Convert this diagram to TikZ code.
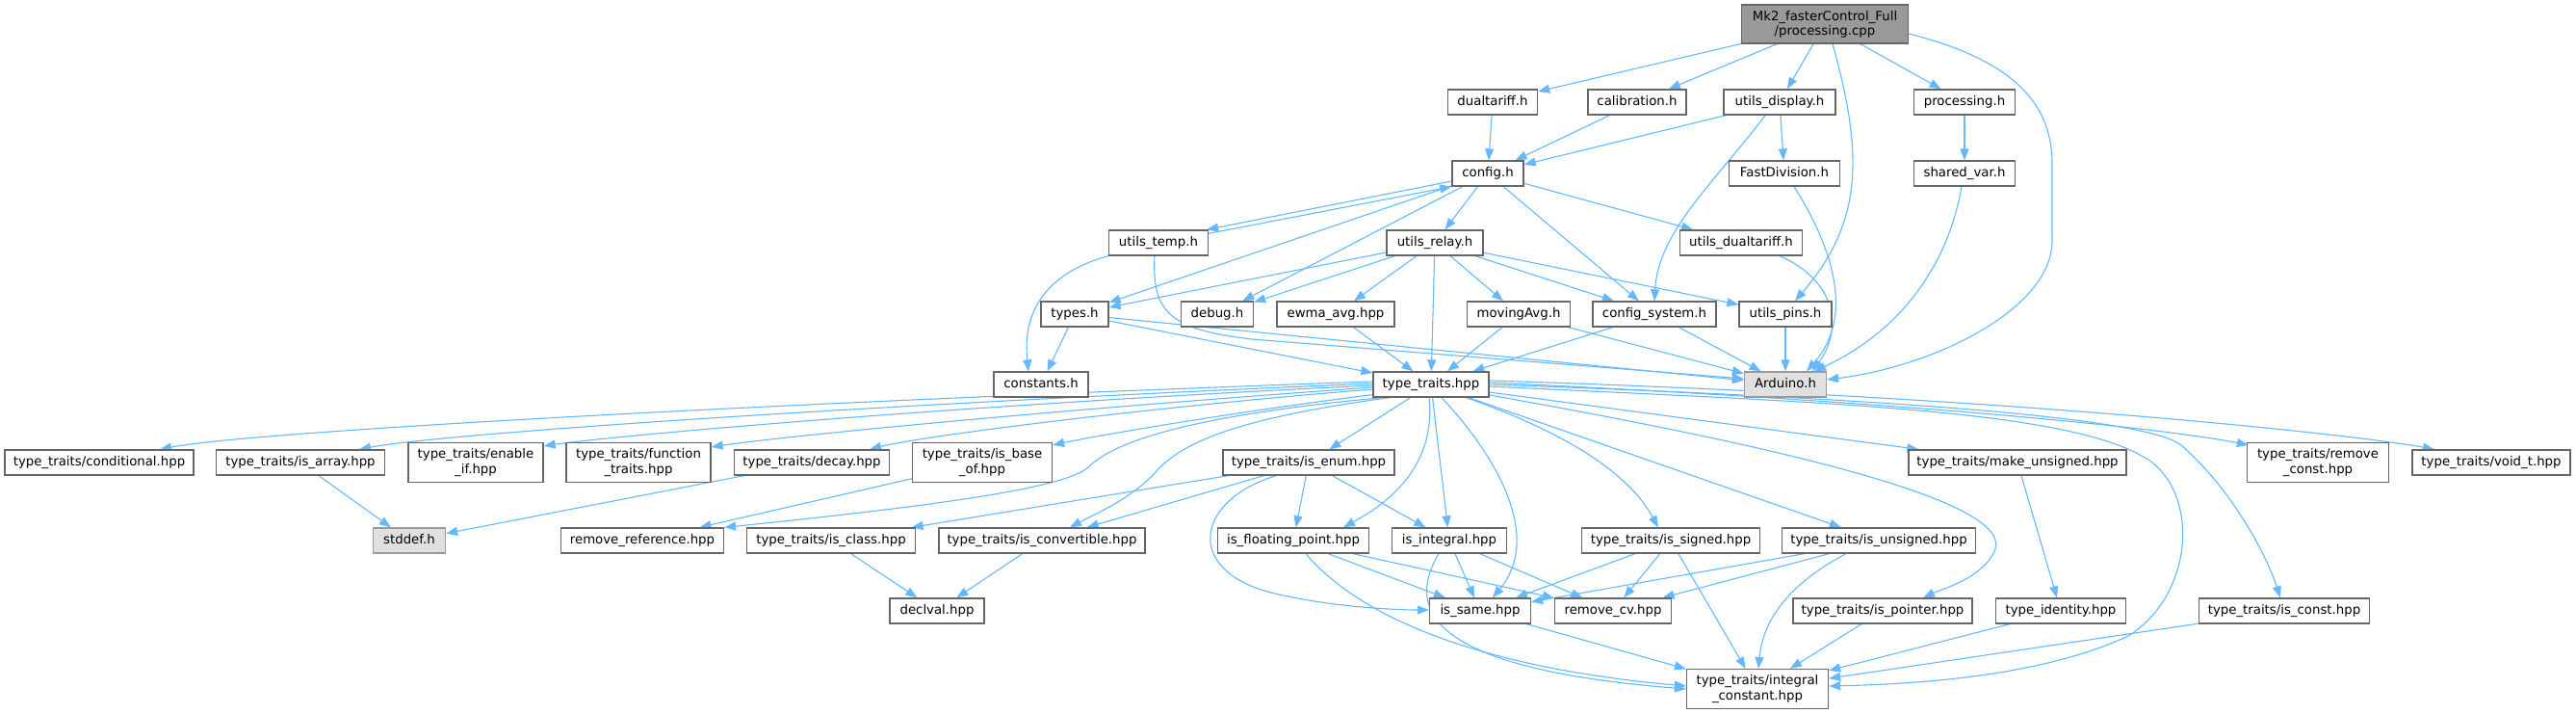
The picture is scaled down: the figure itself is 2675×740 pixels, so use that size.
\documentclass[tikz,border=0pt]{standalone}
\usepackage{fontspec}
\setmainfont{DejaVu Sans}
\usetikzlibrary{arrows.meta,calc,backgrounds}
\definecolor{edgeblue}{HTML}{63B8FF}
\definecolor{greyforty}{HTML}{666666}
\definecolor{greysixty}{HTML}{999999}
\definecolor{extfill}{HTML}{E0E0E0}
\newcommand{\nfont}{\fontsize{13.3}{15.3}\selectfont}
\begin{document}
\begin{tikzpicture}[x=1pt,y=-1pt,
 nb/.style={draw=greyforty, line width=1.3pt, fill=white, font=\nfont, inner sep=0pt, minimum height=26pt, text height=9.8pt, text depth=3pt},
 nbtwo/.style={draw=greyforty, line width=1.3pt, fill=white, font=\nfont, inner sep=0pt, minimum height=41pt, align=center},
 extnode/.style={nb, draw=greysixty, fill=extfill},
 rootnode/.style={nbtwo, fill=greysixty, minimum height=40pt},
 edg/.style={draw=edgeblue, line width=1.1pt, -{Triangle[length=12pt,width=9pt]}},
]
\useasboundingbox (0,0) rectangle (2675,740);
% row 0
\node[rootnode, minimum width=173pt] (mk2) at (1895,25) {Mk2\_fasterControl\_Full\\/processing.cpp};
% row 1
\node[nb, minimum width=93pt] (dual) at (1550,106) {dualtariff.h};
\node[nb, minimum width=102pt] (calib) at (1700,106) {calibration.h};
\node[nb, minimum width=116pt] (udisp) at (1848,106) {utils\_display.h};
\node[nb, minimum width=105pt] (proch) at (2040,106) {processing.h};
% row 2
\node[nb, minimum width=74pt] (cfg) at (1545,180) {config.h};
\node[nb, minimum width=115pt] (fdiv) at (1853,180) {FastDivision.h};
\node[nb, minimum width=105pt] (shv) at (2040,180) {shared\_var.h};
% row 3
\node[nb, minimum width=103pt] (utemp) at (1203,252) {utils\_temp.h};
\node[nb, minimum width=100pt] (urelay) at (1490,252) {utils\_relay.h};
\node[nb, minimum width=127pt] (udual) at (1808,252) {utils\_dualtariff.h};
% row 4
\node[nb, minimum width=70pt] (types) at (1116,326) {types.h};
\node[nb, minimum width=75pt] (debug) at (1264,326) {debug.h};
\node[nb, minimum width=122pt] (ewma) at (1387,326) {ewma\_avg.hpp};
\node[nb, minimum width=107pt] (mavg) at (1577,326) {movingAvg.h};
\node[nb, minimum width=128pt] (csys) at (1718,326) {config\_system.h};
\node[nb, minimum width=96pt] (upins) at (1854,326) {utils\_pins.h};
% row 5
\node[nb, minimum width=98pt] (consts) at (1081,399) {constants.h};
\node[nb, minimum width=120pt] (tt) at (1486,399) {type\_traits.hpp};
\node[extnode, minimum width=85pt] (ard) at (1854,399) {Arduino.h};
% row 6
\node[nb, minimum width=196pt] (cond) at (103,480) {type\_traits/conditional.hpp};
\node[nb, minimum width=175pt] (isarr) at (312,480) {type\_traits/is\_array.hpp};
\node[nbtwo, minimum width=140pt] (enif) at (494,480) {type\_traits/enable\\\_if.hpp};
\node[nbtwo, minimum width=150pt] (ftr) at (663,480) {type\_traits/function\\\_traits.hpp};
\node[nb, minimum width=161pt] (decay) at (843,480) {type\_traits/decay.hpp};
\node[nbtwo, minimum width=145pt] (isbase) at (1020,480) {type\_traits/is\_base\\\_of.hpp};
\node[nb, minimum width=178pt] (isenum) at (1359,480) {type\_traits/is\_enum.hpp};
\node[nb, minimum width=226pt] (mkuns) at (2095,480) {type\_traits/make\_unsigned.hpp};
\node[nbtwo, minimum width=147pt] (rmconst) at (2407,480) {type\_traits/remove\\\_const.hpp};
\node[nb, minimum width=164pt] (voidt) at (2587,480) {type\_traits/void\_t.hpp};
% row 7
\node[extnode, minimum width=75pt] (stddef) at (425,561) {stddef.h};
\node[nb, minimum width=169pt] (rmref) at (667,561) {remove\_reference.hpp};
\node[nb, minimum width=175pt] (iscls) at (863,561) {type\_traits/is\_class.hpp};
\node[nb, minimum width=214pt] (isconv) at (1082,561) {type\_traits/is\_convertible.hpp};
\node[nb, minimum width=157pt] (isfp) at (1343,561) {is\_floating\_point.hpp};
\node[nb, minimum width=119pt] (isint) at (1505,561) {is\_integral.hpp};
\node[nb, minimum width=185pt] (issig) at (1735,561) {type\_traits/is\_signed.hpp};
\node[nb, minimum width=201pt] (isuns) at (1951,561) {type\_traits/is\_unsigned.hpp};
% row 8
\node[nb, minimum width=98pt] (declv) at (973,634) {declval.hpp};
\node[nb, minimum width=105pt] (issame) at (1537,634) {is\_same.hpp};
\node[nb, minimum width=121pt] (rmcv) at (1675,634) {remove\_cv.hpp};
\node[nb, minimum width=186pt] (isptr) at (1955,634) {type\_traits/is\_pointer.hpp};
\node[nb, minimum width=135pt] (tid) at (2140,634) {type\_identity.hpp};
\node[nb, minimum width=177pt] (iscst) at (2372,634) {type\_traits/is\_const.hpp};
% row 9
\node[nbtwo, minimum width=147pt] (intc) at (1825,715) {type\_traits/integral\\\_constant.hpp};

\begin{pgfonlayer}{background}
% from processing.cpp
\draw[edg] (mk2) -- (dual);
\draw[edg] (mk2) -- (calib);
\draw[edg] (mk2) -- (udisp);
\draw[edg] (mk2) -- (proch);
\draw[edg] ($(mk2.south)+(8,0)$) .. controls (1935,160) and (1935,230) .. ($(upins.north)+(10,0)$);
\draw[edg] ($(mk2.east)+(0,10)$) .. controls (2080,60) and (2131,100) .. (2131,170) -- (2131,250) .. controls (2131,320) and (2010,380) .. ($(ard.east)+(0,-5)$);
% second row
\draw[edg] (dual) -- (cfg);
\draw[edg] (calib) -- (cfg);
\draw[edg] (udisp) -- (cfg);
\draw[edg] (udisp) -- (fdiv);
\draw[edg] ($(udisp.south)+(-15,0)$) .. controls (1780,190) and (1722,240) .. (csys.north);
\draw[edg] (proch) -- (shv);
\draw[edg] ($(shv.south)+(-3,0)$) .. controls (2020,290) and (1960,350) .. ($(ard.north)+(30,0)$);
\draw[edg] ($(fdiv.south)+(10,0)$) .. controls (1905,260) and (1925,330) .. ($(ard.north)+(22,0)$);
% config.h
\draw[edg] ($(cfg.west)+(0,8)$) -- ($(utemp.north east)+(-2,0)$);
\draw[edg] ($(utemp.north east)+(0,4)$) -- (cfg.south west);
\draw[edg] (cfg) -- (urelay);
\draw[edg] (cfg) -- (csys);
\draw[edg] (cfg) -- (udual);
\draw[edg] (cfg) -- (types);
\draw[edg] (cfg) -- (debug);
% utils_temp
\draw[edg] (utemp.south west) .. controls (1080,285) and (1062,330) .. ($(consts.north)+(-13,0)$);
\draw[edg] ($(utemp.south)+(-4,0)$) .. controls (1196,325) and (1215,342) .. (1300,352) -- ($(ard.west)+(0,-6)$);
% utils_relay
\draw[edg] (urelay) -- (types);
\draw[edg] (urelay) -- (debug);
\draw[edg] (urelay) -- (ewma);
\draw[edg] (urelay) -- (tt);
\draw[edg] (urelay) -- (mavg);
\draw[edg] (urelay) -- (csys);
\draw[edg] (urelay) -- (upins);
% utils_dualtariff
\draw[edg] ($(udual.south)+(40,0)$) .. controls (1905,290) and (1915,340) .. ($(ard.north)+(28,0)$);
% row 4
\draw[edg] (types) -- (consts);
\draw[edg] (types) -- (tt);
\draw[edg] (types) -- (ard);
\draw[edg] (ewma) -- (tt);
\draw[edg] (mavg) -- (tt);
\draw[edg] (mavg) -- (ard);
\draw[edg] (csys) -- (tt);
\draw[edg] (csys) -- (ard);
\draw[edg] (upins) -- (ard);
% type_traits.hpp fan
\draw[edg] ($(tt.west)+(0,-3)$) .. controls (800,418) and (260,448) .. ($(cond.north)+(63,0)$);
\draw[edg] ($(tt.west)+(0,-1)$) .. controls (900,420) and (460,450) .. ($(isarr.north)+(61,0)$);
\draw[edg] ($(tt.west)+(0,1)$) .. controls (1000,420) and (640,452) .. ($(enif.north east)+(0,4)$);
\draw[edg] ($(tt.west)+(0,3)$) .. controls (1100,425) and (820,452) .. ($(ftr.north east)+(0,5)$);
\draw[edg] ($(tt.west)+(0,5)$) .. controls (1200,422) and (960,452) .. ($(decay.north)+(60,0)$);
\draw[edg] ($(tt.south west)+(0,-3)$) .. controls (1300,425) and (1150,450) .. ($(isbase.north east)+(0,3)$);
\draw[edg] ($(tt.south west)+(10,0)$) .. controls (1250,430) and (1160,455) .. (1130,485) .. controls (1105,508) and (950,527) .. (rmref.north east);
\draw[edg] ($(tt.south west)+(18,0)$) .. controls (1300,432) and (1230,455) .. (1200,490) .. controls (1175,518) and (1130,537) .. ($(isconv.north)+(29,0)$);
\draw[edg] (tt) -- (isenum);
\draw[edg] ($(tt.south)+(-2,0)$) .. controls (1490,470) and (1460,512) .. ($(isfp.north)+(52,0)$);
\draw[edg] (tt) -- (isint);
\draw[edg] ($(tt.south)+(11,0)$) .. controls (1560,480) and (1600,560) .. ($(issame.north)+(13,0)$);
\draw[edg] ($(tt.south east)+(-24,0)$) .. controls (1600,440) and (1685,480) .. ($(issig.north)+(-13,0)$);
\draw[edg] (tt) -- (isuns);
\draw[edg] ($(tt.east)+(0,11)$) .. controls (1800,455) and (2090,515) .. (2072,570) .. controls (2060,600) and (2015,612) .. ($(isptr.north)+(42,0)$);
\draw[edg] (tt) -- (mkuns);
\draw[edg] ($(tt.east)+(0,2)$) .. controls (1900,418) and (2160,425) .. (2235,480) .. controls (2285,520) and (2275,620) .. (2210,660) .. controls (2120,702) and (1990,710) .. ($(intc.east)+(0,-3)$);
\draw[edg] (tt.east) .. controls (2000,415) and (2230,435) .. (2265,462) .. controls (2320,510) and (2355,580) .. ($(iscst.north)+(-4,0)$);
\draw[edg] ($(tt.east)+(0,-2)$) .. controls (2000,418) and (2250,445) .. ($(rmconst.north west)+(2,3)$);
\draw[edg] ($(tt.east)+(0,-4)$) .. controls (2100,412) and (2450,452) .. ($(voidt.north)+(-59,0)$);
% row 6 onwards
\draw[edg] (isarr) -- (stddef);
\draw[edg] (decay) -- (stddef);
\draw[edg] (isbase) -- (rmref);
\draw[edg] (isenum) -- (iscls);
\draw[edg] (isenum) -- (isconv);
\draw[edg] (isenum) -- (isfp);
\draw[edg] (isenum) -- (isint);
\draw[edg] ($(isenum.south)+(-34,0)$) .. controls (1240,520) and (1230,592) .. (1320,615) .. controls (1380,630) and (1450,633) .. ($(issame.west)+(0,-1)$);
\draw[edg] (mkuns) -- (tid);
\draw[edg] (iscls) -- (declv);
\draw[edg] (isconv) -- (declv);
\draw[edg] (isfp) -- (issame);
\draw[edg] (isfp) -- (rmcv);
\draw[edg] ($(isfp.south)+(13,0)$) .. controls (1420,650) and (1560,695) .. ($(intc.west)+(0,-3)$);
\draw[edg] (isint) -- (issame);
\draw[edg] (isint) -- (rmcv);
\draw[edg] ($(isint.south)+(-11,0)$) .. controls (1455,640) and (1500,695) .. (intc.west);
\draw[edg] (issig) -- (issame);
\draw[edg] (issig) -- (rmcv);
\draw[edg] (issig) -- (intc);
\draw[edg] (isuns) -- (issame);
\draw[edg] (isuns) -- (rmcv);
\draw[edg] ($(isuns.south)+(-34,0)$) .. controls (1850,610) and (1830,650) .. ($(intc.north)+(1,0)$);
\draw[edg] (issame) -- (intc);
\draw[edg] (isptr) -- (intc);
\draw[edg] (tid) -- (intc);
\draw[edg] (iscst) -- (intc);
\end{pgfonlayer}
\end{tikzpicture}
\end{document}
